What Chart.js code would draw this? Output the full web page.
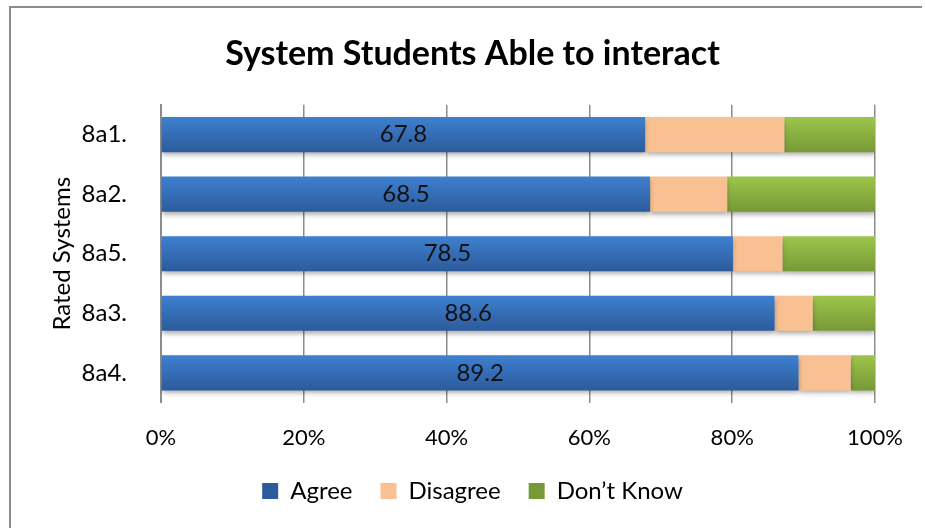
<!DOCTYPE html>
<html>
<head>
<meta charset="utf-8">
<title>System Students Able to interact</title>
<script src="https://cdn.jsdelivr.net/npm/chart.js@4.4.1/dist/chart.umd.min.js"></script>
<style>
	html, body { margin: 0; padding: 0; background: #fff; overflow: hidden; }
	canvas { display: block; }
</style>
</head>
<body>
<canvas id="chart" width="925" height="528"></canvas>
<script>

const categories = [ '8a1.', '8a2.', '8a5.', '8a3.', '8a4.' ];
const agree = [ 67.8, 68.5, 78.5, 88.6, 89.2 ];
const disagree = [ 19.5, 10.8, 6.8, 5.5, 7.3 ];
const dontKnow = [ 12.7, 20.7, 12.7, 9.0, 3.4 ];
const seriesNames = [ 'Agree', 'Disagree', 'Don\u2019t Know' ];
const xTicks = [ 0, 20, 40, 60, 80, 100 ];

const BAR_FRACTION = 0.59;

// each bar is drawn as its share of the row total (100% stacked)
const totals = categories.map( ( c, i ) => agree[ i ] + disagree[ i ] + dontKnow[ i ] );
const share = values => values.map( ( v, i ) => v / totals[ i ] * 100 );

function barFill ( top, bottom, flat ) {

	return c => {

		const chart = c.chart;
		const area = chart.chartArea;

		if ( ! area || c.dataIndex === undefined ) return flat;

		const y = chart.scales.y.getPixelForValue( c.dataIndex );
		const half = area.height / categories.length * BAR_FRACTION / 2;
		const g = chart.ctx.createLinearGradient( 0, y - half, 0, y + half );

		g.addColorStop( 0, top );
		g.addColorStop( 1, bottom );

		return g;

	};

}

const frame = {
	id: 'frame',
	beforeDraw ( chart ) {

		const ctx = chart.ctx;

		ctx.save();
		ctx.fillStyle = '#fff';
		ctx.fillRect( 0, 0, chart.width, chart.height );
		ctx.strokeStyle = '#8c8c8c';
		ctx.lineWidth = 2;
		ctx.beginPath();
		ctx.moveTo( 10, chart.height );
		ctx.lineTo( 10, 7 );
		ctx.lineTo( chart.width - 3, 7 );
		ctx.stroke();
		ctx.restore();

	}
};

const barDecor = {
	id: 'barDecor',
	beforeDatasetsDraw ( chart ) {

		const ctx = chart.ctx;

		ctx.save();
		ctx.shadowColor = 'rgba(0, 0, 0, 0.35)';
		ctx.shadowBlur = 5;
		ctx.shadowOffsetY = 3;

	},
	afterDatasetsDraw ( chart ) {

		const ctx = chart.ctx;

		ctx.restore();

		// value labels on the Agree segments
		ctx.save();
		ctx.font = '24px Lato';
		ctx.fillStyle = '#111';
		ctx.textAlign = 'center';
		ctx.textBaseline = 'middle';

		chart.getDatasetMeta( 0 ).data.forEach( ( bar, i ) => {

			ctx.fillText( agree[ i ].toFixed( 1 ), ( bar.x + bar.base ) / 2, bar.y );

		} );

		ctx.restore();

	}
};

Chart.defaults.font.family = 'Lato';
Chart.defaults.font.size = 22;
Chart.defaults.color = '#000';

const datasets = [
	{ label: seriesNames[ 0 ], data: share( agree ), backgroundColor: barFill( '#3e80d0', '#2c5b9b', '#3571bb' ) },
	{ label: seriesNames[ 1 ], data: share( disagree ), backgroundColor: '#f9c192' },
	{ label: seriesNames[ 2 ], data: share( dontKnow ), backgroundColor: barFill( '#9dc54a', '#779937', '#8cb042' ) }
];

datasets.forEach( d => {

	d.barPercentage = BAR_FRACTION;
	d.categoryPercentage = 1;
	d.borderWidth = 0;

} );

new Chart( document.getElementById( 'chart' ), {
	type: 'bar',
	data: {
		labels: categories,
		datasets: datasets
	},
	options: {
		indexAxis: 'y',
		responsive: false,
		animation: false,
		events: [],
		layout: {
			padding: { left: 20, right: 0, top: 0, bottom: 15 }
		},
		scales: {
			x: {
				stacked: true,
				min: 0,
				max: 100,
				afterBuildTicks: s => { s.ticks = xTicks.map( v => ( { value: v } ) ); },
				afterFit: s => { s.height -= 22; },
				ticks: {
					padding: 22,
					callback: v => v + '%'
				},
				grid: {
					color: '#8c8c8c',
					lineWidth: 1.5,
					drawTicks: false
				},
				border: { display: false }
			},
			y: {
				stacked: true,
				afterFit: s => { s.width = 141; },
				ticks: { padding: 26, font: { size: 24 } },
				grid: { display: false },
				border: { display: true, color: '#8c8c8c', width: 2 },
				title: {
					display: true,
					text: 'Rated Systems',
					font: { size: 24 },
					padding: { top: 28, bottom: 0 }
				}
			},
			yRight: {
				type: 'category',
				position: 'right',
				labels: categories,
				grid: { display: false },
				border: { display: false },
				ticks: { display: false },
				afterFit: s => { s.width = 50; }
			}
		},
		plugins: {
			title: {
				display: true,
				text: 'System Students Able to interact',
				font: { size: 34, weight: 'bold' },
				color: '#000',
				padding: { top: 34, bottom: 30 }
			},
			legend: {
				position: 'bottom',
				labels: {
					boxWidth: 16,
					boxHeight: 16,
					padding: 28,
					font: { size: 24 }
				}
			},
			tooltip: { enabled: false }
		}
	},
	plugins: [ frame, barDecor ]
} );

</script>
</body>
</html>
